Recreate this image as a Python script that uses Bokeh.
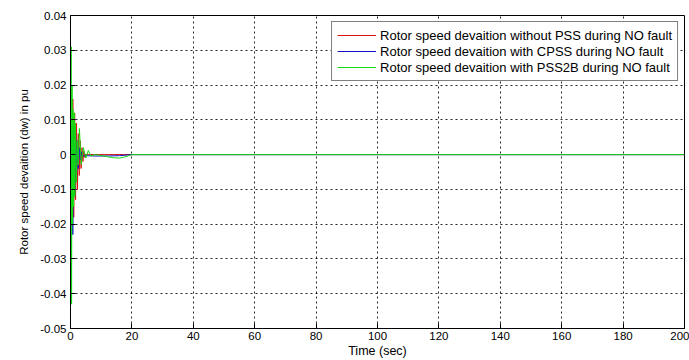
from bokeh.plotting import figure
from bokeh.models import Range1d, CustomJSTickFormatter, FixedTicker, Legend, LegendItem
from bokeh.embed import file_html
from bokeh.resources import INLINE

# Time (sec) and rotor speed deviation (pu)
t_nopss = [0, 0.15, 0.45, 0.75, 1.05, 1.35, 1.65, 1.95, 2.25, 2.55, 2.85, 3.15,
           3.45, 3.75, 4.05, 4.35, 4.65, 5.0, 6.0, 20.0, 200.0]
dw_nopss = [0, 0.010, -0.014, 0.016, -0.018, 0.012, -0.013, 0.009, -0.010, 0.006,
            -0.006, 0.004, -0.004, 0.002, -0.002, 0.001, -0.0008, 0, 0, 0, 0]

t_cpss = [0, 0.15, 0.45, 0.75, 1.05, 1.35, 1.65, 1.95, 2.25, 2.55, 2.85, 3.2,
          3.6, 4.0, 5.0, 8.0, 12.0, 16.0, 20.0, 200.0]
dw_cpss = [0, -0.008, 0.006, -0.023, 0.008, -0.012, 0.006, -0.007, 0.004, -0.004,
           0.002, -0.0015, 0.0008, -0.0004, -0.0003, -0.0004, -0.0004, -0.0003, 0, 0]

t_pss2b = [0, 0.2, 0.35, 0.5, 0.65, 0.8, 1.0, 1.2, 1.4, 1.6, 1.9, 2.2, 2.5, 2.9,
           3.5, 4.2, 5.0, 5.8, 6.6, 8.0, 10.0, 12.0, 14.0, 16.0, 18.0, 20.0, 200.0]
dw_pss2b = [0, 0.031, -0.043, 0.020, -0.020, 0.013, -0.015, 0.012, -0.012, 0.009,
            -0.008, 0.004, -0.003, 0.0075, -0.0028, 0.002, -0.001, 0.0012, -0.0004,
            0.0, -0.0003, -0.0006, -0.0009, -0.001, -0.0006, 0, 0]

labels = ["Rotor speed devaition without PSS during NO fault",
          "Rotor speed devaition with CPSS during NO fault",
          "Rotor speed devaition with PSS2B during NO fault"]
colors = ["#dd1111", "#1111cc", "#11dd11"]
x_ticks = [0, 20, 40, 60, 80, 100, 120, 140, 160, 180, 200]
y_ticks = [-0.05, -0.04, -0.03, -0.02, -0.01, 0, 0.01, 0.02, 0.03, 0.04]

FONT = "Liberation Sans"

p = figure(width=689, height=360, output_backend="svg", toolbar_location=None,
           x_range=Range1d(0, 200), y_range=Range1d(-0.05, 0.04),
           min_border_left=70, min_border_right=5, min_border_top=15, min_border_bottom=32)
p.background_fill_color = "white"
p.border_fill_color = "white"
p.outline_line_color = "black"
p.outline_line_width = 1

series = [(t_nopss, dw_nopss), (t_cpss, dw_cpss), (t_pss2b, dw_pss2b)]
renderers = []
for (tt, dd), c in zip(series, colors):
    renderers.append(p.line(tt, dd, line_color=c, line_width=1))

for ax in (p.xaxis[0], p.yaxis[0]):
    ax.axis_line_color = "black"
    ax.major_tick_line_color = "black"
    ax.major_tick_in = 5
    ax.major_tick_out = 0
    ax.minor_tick_line_color = None
    ax.major_label_text_font = FONT
    ax.major_label_text_font_size = "11.5px"
    ax.major_label_text_color = "black"
    ax.axis_label_text_font = FONT
    ax.axis_label_text_font_style = "normal"
    ax.axis_label_text_color = "black"

p.xaxis.axis_label_text_font_size = "12.5px"
p.yaxis.axis_label_text_font_size = "11.5px"
p.xaxis.ticker = FixedTicker(ticks=x_ticks)
p.yaxis.ticker = FixedTicker(ticks=y_ticks)
p.yaxis.formatter = CustomJSTickFormatter(code="return Number(tick.toFixed(2)).toString();")
p.xaxis.axis_label = "Time (sec)"
p.yaxis.axis_label = "Rotor speed devaition (dw) in pu"
p.xaxis.major_label_standoff = 3
p.xaxis.axis_label_standoff = 1
p.yaxis.major_label_standoff = 4
p.yaxis.axis_label_standoff = 7

for g in (p.xgrid[0], p.ygrid[0]):
    g.grid_line_color = "black"
    g.grid_line_dash = "2 3"
    g.grid_line_width = 1
    g.grid_line_alpha = 0.85

legend = Legend(items=[LegendItem(label=lab, renderers=[r])
                       for lab, r in zip(labels, renderers)],
                location="top_right")
legend.margin = 6
legend.padding = 5
legend.spacing = 0
legend.glyph_width = 39
legend.glyph_height = 16
legend.label_height = 16
legend.label_standoff = 4
legend.label_text_font = FONT
legend.label_text_font_size = "13px"
legend.label_text_color = "black"
legend.border_line_color = "black"
legend.border_line_width = 1
legend.background_fill_alpha = 1
p.add_layout(legend, "center")

open("out.html", "w").write(file_html(p, INLINE))
